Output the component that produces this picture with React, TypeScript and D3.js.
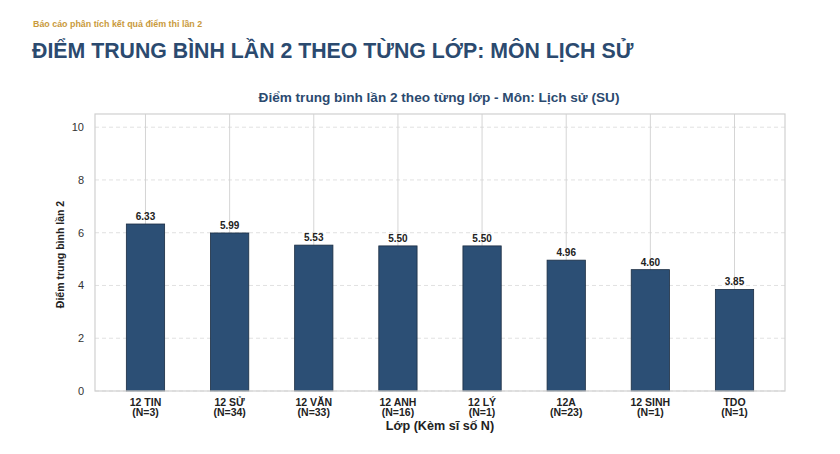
import React from 'react';
import * as d3 from 'd3';

const classes = ['12 TIN', '12 SỬ', '12 VĂN', '12 ANH', '12 LÝ', '12A', '12 SINH', 'TDO'];
const counts = [3, 34, 33, 16, 1, 23, 1, 1];
const scores = [6.33, 5.99, 5.53, 5.5, 5.5, 4.96, 4.6, 3.85];
const yTicks = [0, 2, 4, 6, 8, 10];

const W = 840;
const H = 454;
const plot = { left: 95, right: 785, top: 114, bottom: 391 };
const FONT = '"Liberation Sans", Arial, Helvetica, sans-serif';

const App: React.FC = () => {
  const x = d3
    .scalePoint<string>()
    .domain(classes)
    .range([plot.left, plot.right])
    .padding(0.6);
  const y = d3.scaleLinear().domain([0, 10.5]).range([plot.bottom, plot.top]);
  const barW = x.step() * 0.455;

  return (
    <svg
      width={W}
      height={H}
      style={{ position: 'absolute', left: 0, top: 0, background: '#fff' }}
      fontFamily={FONT}
    >
      <text x={33} y={27} fontSize={8.9} fontWeight="bold" fill="#c99a3c">
        Báo cáo phân tích kết quả điểm thi lần 2
      </text>
      <text x={32} y={58} fontSize={21.3} fontWeight="bold" fill="#2b4a6f">
        ĐIỂM TRUNG BÌNH LẦN 2 THEO TỪNG LỚP: MÔN LỊCH SỬ
      </text>
      <text x={439} y={101.5} textAnchor="middle" fontSize={13.6} fontWeight="bold" fill="#2b4a6f">
        Điểm trung bình lần 2 theo từng lớp - Môn: Lịch sử (SU)
      </text>

      {/* grid */}
      {yTicks.map((t) => (
        <line
          key={'h' + t}
          x1={plot.left}
          x2={plot.right}
          y1={y(t)}
          y2={y(t)}
          stroke="#d9d9d9"
          strokeWidth={0.8}
          strokeDasharray="4,3"
        />
      ))}
      {classes.map((c) => (
        <line
          key={'v' + c}
          x1={x(c)}
          x2={x(c)}
          y1={plot.top}
          y2={plot.bottom}
          stroke="#d0d0d0"
          strokeWidth={0.9}
        />
      ))}

      {/* bars */}
      {classes.map((c, i) => (
        <g key={c}>
          <rect
            x={(x(c) as number) - barW / 2}
            y={y(scores[i])}
            width={barW}
            height={y(0) - y(scores[i])}
            fill="#2c4f75"
            stroke="#1b2d42"
            strokeWidth={0.8}
          />
          <text
            x={x(c)}
            y={y(scores[i]) - 4}
            textAnchor="middle"
            fontSize={10}
            fontWeight="bold"
            fill="#222"
          >
            {scores[i].toFixed(2)}
          </text>
          <text x={x(c)} y={405.5} textAnchor="middle" fontSize={10.5} fontWeight="bold" fill="#222">
            {c}
          </text>
          <text x={x(c)} y={415.5} textAnchor="middle" fontSize={10.5} fontWeight="bold" fill="#222">
            (N={counts[i]})
          </text>
        </g>
      ))}

      {/* frame */}
      <rect
        x={plot.left}
        y={plot.top}
        width={plot.right - plot.left}
        height={plot.bottom - plot.top}
        fill="none"
        stroke="#d0d0d0"
        strokeWidth={1.2}
      />

      {/* y ticks */}
      {yTicks.map((t) => (
        <text key={'yt' + t} x={84} y={y(t) + 4} textAnchor="end" fontSize={11} fill="#333">
          {t}
        </text>
      ))}

      <text
        transform={`translate(64,${(plot.top + plot.bottom) / 2 + 2}) rotate(-90)`}
        textAnchor="middle"
        fontSize={10.5}
        fontWeight="bold"
        fill="#222"
      >
        Điểm trung bình lần 2
      </text>
      <text x={440} y={429.5} textAnchor="middle" fontSize={12.6} fontWeight="bold" fill="#222">
        Lớp (Kèm sĩ số N)
      </text>
    </svg>
  );
};

export default App;
